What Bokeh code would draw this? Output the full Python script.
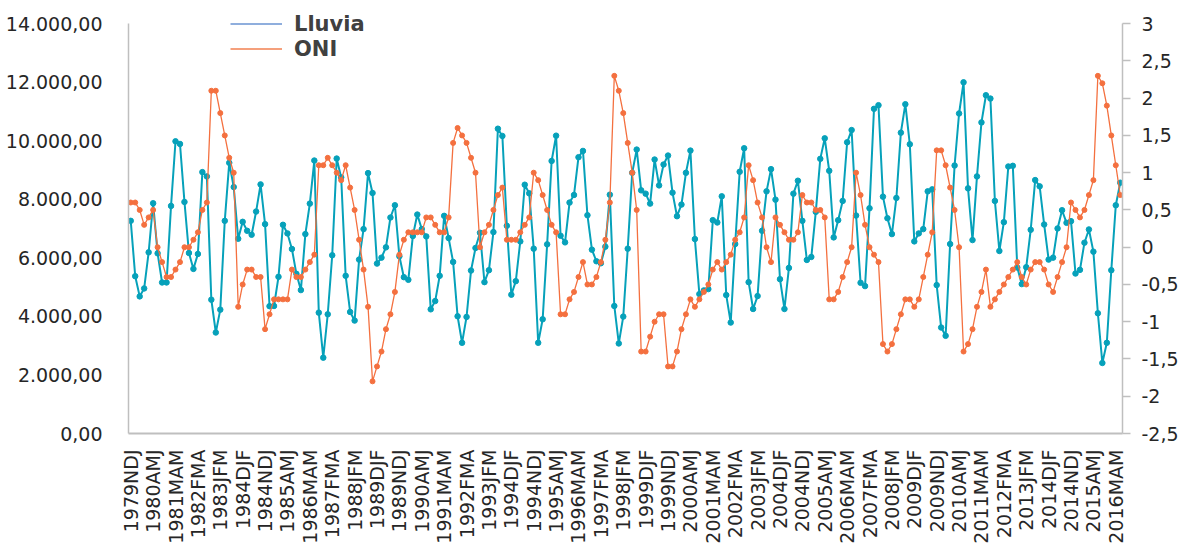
import math
from bokeh.plotting import figure
from bokeh.models import (Range1d, LinearAxis, FixedTicker, CustomJSTickFormatter,
                          Legend, LegendItem, ColumnDataSource)
from bokeh.embed import file_html
from bokeh.resources import INLINE

# ---- data ----
SEASONS = ["DJF", "JFM", "FMA", "MAM", "AMJ", "NDJ"]
categories = ["1979NDJ"] + [f"{y}{s}" for y in range(1980, 2017) for s in SEASONS]
categories = categories[:222]

lluvia = [
    7265, 5374, 4684, 4955, 6189, 7865, 6155, 5159, 5159, 7774,
    9982, 9891, 7910, 6167, 5623, 6133, 8929, 8782, 4571, 3450,
    4231, 7265, 9246, 8419, 6653, 7231, 6925, 6789, 7582, 8510,
    7152, 4350, 4356, 5352, 7129, 6835, 6303, 5454, 4899, 6812,
    7853, 9325, 4129, 2590, 4073, 6088, 9393, 8748, 5386, 4152,
    3858, 5940, 6982, 8895, 8216, 5805, 6008, 6359, 7378, 7797,
    6054, 5340, 5250, 6745, 7480, 6982, 6733, 4242, 4525, 5386,
    7435, 6676, 5861, 4005, 3099, 3982, 5567, 6337, 6857, 5171,
    5578, 6880, 10412, 10163, 7095, 4741, 5205, 6563, 8499, 8204,
    6314, 3099, 3903, 6461, 9310, 10174, 6755, 6529, 7888, 8148,
    9438, 9653, 7457, 6280, 5884, 5816, 6382, 8159, 4356, 3076,
    3993, 6314, 8906, 9699, 8306, 8193, 7853, 9359, 8476, 9189,
    9495, 8227, 7423, 7820, 8906, 9665, 6642, 4763, 4888, 4933,
    7288, 7208, 8103, 4729, 3790, 6472, 8940, 9744, 5171, 4254,
    4695, 6925, 8272, 9031, 7989, 5272, 4254, 5657, 8193, 8635,
    7265, 5929, 6031, 7571, 9382, 10083, 8974, 6699, 7288, 7944,
    9948, 10366, 7446, 5148, 5035, 7695, 11091, 11215, 8091, 7355,
    6812, 8046, 10276, 11249, 9880, 6563, 6835, 6982, 8272, 8340,
    5069, 3620, 3337, 6472, 9155, 10932, 11997, 8374, 6608, 8782,
    10627, 11555, 11442, 7944, 6235, 7220, 9121, 9144, 5669, 5103,
    5680, 6959, 8657, 8442, 7140, 5940, 6008, 7005, 7627, 7197,
    7253, 5465, 5590, 6518, 6970, 6212, 4107, 2409, 3099, 5578,
    7797, 8567,
]

oni = [
    0.6, 0.6, 0.5, 0.3, 0.4, 0.5, 0.0, -0.2, -0.4, -0.4,
    -0.3, -0.2, 0.0, 0.0, 0.1, 0.2, 0.5, 0.6, 2.1, 2.1,
    1.8, 1.5, 1.2, 1.0, -0.8, -0.5, -0.3, -0.3, -0.4, -0.4,
    -1.1, -0.9, -0.7, -0.7, -0.7, -0.7, -0.3, -0.4, -0.4, -0.3,
    -0.2, -0.1, 1.1, 1.1, 1.2, 1.1, 1.0, 0.9, 1.1, 0.8,
    0.5, 0.1, -0.3, -0.8, -1.8, -1.6, -1.4, -1.1, -0.9, -0.6,
    -0.1, 0.1, 0.2, 0.2, 0.2, 0.2, 0.4, 0.4, 0.3, 0.2,
    0.2, 0.4, 1.4, 1.6, 1.5, 1.4, 1.2, 1.0, 0.0, 0.2,
    0.3, 0.5, 0.7, 0.8, 0.1, 0.1, 0.1, 0.2, 0.3, 0.4,
    1.0, 0.9, 0.7, 0.5, 0.3, 0.2, -0.9, -0.9, -0.7, -0.6,
    -0.4, -0.2, -0.5, -0.5, -0.4, -0.2, 0.1, 0.6, 2.3, 2.1,
    1.8, 1.4, 1.0, 0.5, -1.4, -1.4, -1.2, -1.0, -0.9, -0.9,
    -1.6, -1.6, -1.4, -1.1, -0.9, -0.7, -0.8, -0.7, -0.6, -0.5,
    -0.3, -0.2, -0.3, -0.2, -0.1, 0.1, 0.2, 0.4, 1.1, 0.9,
    0.6, 0.4, 0.0, -0.2, 0.4, 0.3, 0.2, 0.1, 0.1, 0.2,
    0.7, 0.6, 0.6, 0.5, 0.5, 0.4, -0.7, -0.7, -0.6, -0.4,
    -0.2, 0.0, 1.0, 0.7, 0.3, 0.0, -0.1, -0.2, -1.3, -1.4,
    -1.3, -1.1, -0.9, -0.7, -0.7, -0.8, -0.7, -0.4, -0.1, 0.2,
    1.3, 1.3, 1.1, 0.8, 0.5, 0.0, -1.4, -1.3, -1.1, -0.8,
    -0.6, -0.3, -0.8, -0.7, -0.6, -0.5, -0.4, -0.3, -0.2, -0.4,
    -0.5, -0.3, -0.2, -0.2, -0.3, -0.5, -0.6, -0.4, -0.2, 0.0,
    0.6, 0.5, 0.4, 0.5, 0.7, 0.9, 2.3, 2.2, 1.9, 1.5,
    1.1, 0.7,
]

left_ticks = [0, 2000, 4000, 6000, 8000, 10000, 12000, 14000]
right_ticks = [-2.5, -2, -1.5, -1, -0.5, 0, 0.5, 1, 1.5, 2, 2.5, 3]

TEAL = "#06A1BA"
ORANGE = "#F4703F"
AXIS_GRAY = "#BFBFBF"
TEXT = "#262626"
FONT = "DejaVu Sans"

# frame runs from y=5 to y=436; axis scales put 14000 / 3 at y~23 (as in the original)
FRAME_H = 431.0
AXIS_SPAN = 412.7
left_top = 14000 * FRAME_H / AXIS_SPAN
right_top = -2.5 + 5.5 * FRAME_H / AXIS_SPAN

x = list(range(len(categories)))
src = ColumnDataSource(dict(x=x, lluvia=lluvia, oni=oni))

p = figure(width=1186, height=546, output_backend="svg", toolbar_location=None,
           x_range=Range1d(-0.5, len(categories) - 0.5), y_range=Range1d(0, left_top),
           min_border_left=128, min_border_right=64, min_border_top=5, min_border_bottom=110)
p.extra_y_ranges = {"oni": Range1d(-2.5, right_top)}
p.outline_line_color = None
p.xgrid.visible = False
p.ygrid.visible = False
p.background_fill_color = "white"
p.border_fill_color = "white"

# x axis
xa = p.xaxis[0]
xa.ticker = FixedTicker(ticks=list(range(0, len(categories), 5)))
xa.formatter = CustomJSTickFormatter(args=dict(labels=categories),
                                     code="const i = Math.round(tick); return (i >= 0 && i < labels.length) ? labels[i] : '';")
xa.major_label_orientation = math.pi / 2
xa.major_tick_line_color = None
xa.minor_tick_line_color = None
xa.axis_line_color = AXIS_GRAY
xa.axis_line_width = 2
xa.major_label_standoff = 10
xa.major_label_text_font = FONT
xa.major_label_text_font_size = "19px"
xa.major_label_text_color = TEXT

# left axis
ya = p.yaxis[0]
ya.ticker = FixedTicker(ticks=left_ticks)
ya.bounds = (0, 14000)
ya.formatter = CustomJSTickFormatter(code="""
const s = tick.toFixed(2); const parts = s.split('.');
return parts[0].replace(/\\B(?=(\\d{3})+(?!\\d))/g, '.') + ',' + parts[1];
""")
ya.major_tick_line_color = None
ya.minor_tick_line_color = None
ya.axis_line_color = AXIS_GRAY
ya.axis_line_width = 1.5
ya.major_label_standoff = 20
ya.major_label_text_font = FONT
ya.major_label_text_font_size = "19px"
ya.major_label_text_color = TEXT

# right axis
ra = LinearAxis(y_range_name="oni", ticker=FixedTicker(ticks=right_ticks))
ra.bounds = (-2.5, 3)
ra.formatter = CustomJSTickFormatter(code="return String(tick).replace('.', ',');")
ra.major_tick_in = 0
ra.major_tick_out = 8
ra.major_tick_line_color = AXIS_GRAY
ra.major_tick_line_width = 1.5
ra.minor_tick_line_color = None
ra.axis_line_color = AXIS_GRAY
ra.axis_line_width = 1.5
ra.major_label_standoff = 11
ra.major_label_text_font = FONT
ra.major_label_text_font_size = "19px"
ra.major_label_text_color = TEXT
p.add_layout(ra, "right")

# series
p.line("x", "lluvia", source=src, color=TEAL, line_width=2)
p.scatter("x", "lluvia", source=src, color=TEAL, size=5.5)
p.line("x", "oni", source=src, color=ORANGE, line_width=1.3, y_range_name="oni")
p.scatter("x", "oni", source=src, color=ORANGE, size=5, y_range_name="oni")

# legend swatches: line-only, drawn off-range so that only the legend shows them
leg_l = p.line(x=[-50, -40], y=[-5000, -5000], color="#8FAEDD", line_width=2)
leg_o = p.line(x=[-50, -40], y=[-5000, -5000], color="#F5A07C", line_width=2)
legend = Legend(items=[LegendItem(label="Lluvia", renderers=[leg_l]),
                       LegendItem(label="ONI", renderers=[leg_o])],
                location=(102, 372), orientation="vertical",
                glyph_width=52, glyph_height=25, label_height=25, label_standoff=12,
                spacing=0, padding=0, margin=0,
                border_line_color=None, background_fill_alpha=0,
                label_text_font=FONT, label_text_font_style="bold",
                label_text_font_size="21px", label_text_color="#404040")
p.add_layout(legend, "center")

open("out.html", "w").write(file_html(p, INLINE))
